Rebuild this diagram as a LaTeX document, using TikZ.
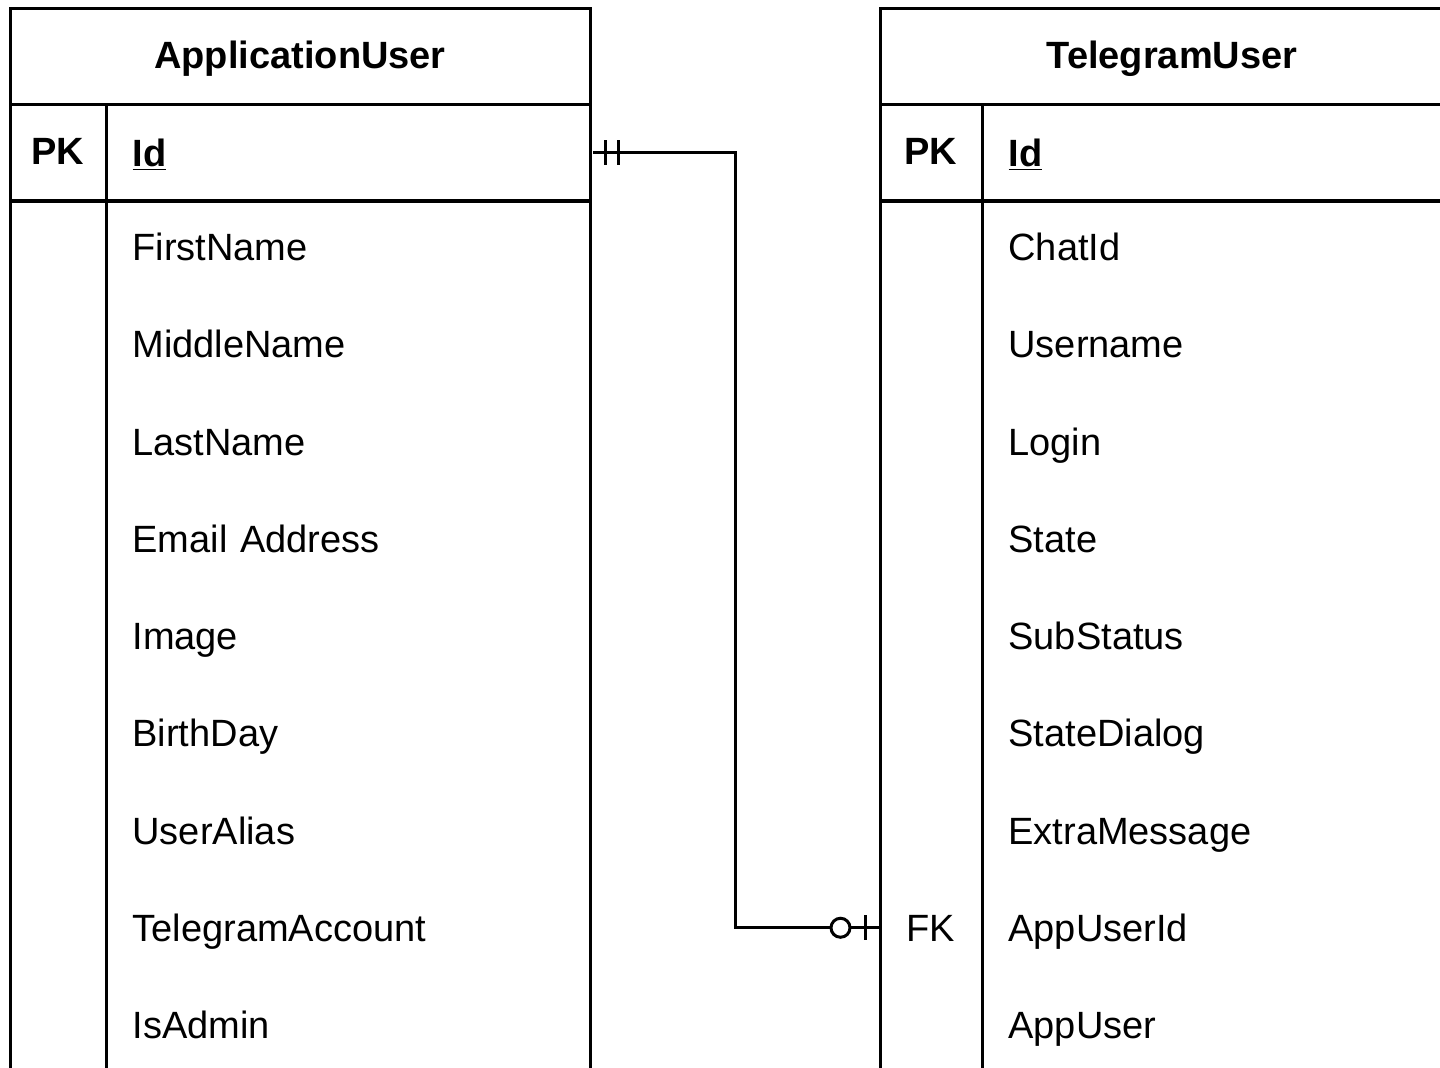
\documentclass[tikz,border=0pt]{standalone}
\usepackage{fontspec}
\setmainfont{Liberation Sans}
\usetikzlibrary{calc}

\tikzset{
	entity/.style={font=\bfseries\fontsize{19pt}{23pt}\selectfont, text height=13.6pt, text depth=0pt},
	key/.style={font=\fontsize{19pt}{23pt}\selectfont, text height=13.6pt, text depth=0pt, inner sep=0pt},
	field/.style={anchor=west, minimum width=242pt, minimum height=48.5pt, text width=217pt,
		inner xsep=12.5pt, inner ysep=0pt, align=left, font=\fontsize{19pt}{23pt}\selectfont,
		text height=13.6pt, text depth=0pt},
}

\begin{document}
\begin{tikzpicture}[x=0.5pt, y=-0.5pt, line width=1.5pt]

	\useasboundingbox (0,0) rectangle (1440,1067);
	\clip (0,0) rectangle (1440,1067);

	% draw ApplicationUser table
	\draw (10,8) rectangle (590,1200);
	\draw (10,104) -- (590,104);
	\draw[line width=2pt] (10,201) -- (590,201);
	\draw (106,104) -- (106,1200);
	\node[entity] (au_title) at (300,55) {ApplicationUser};
	\node[key, font=\bfseries\fontsize{19pt}{23pt}\selectfont] (au_pk) at (58,151) {PK};
	\node[field, font=\bfseries\fontsize{19pt}{23pt}\selectfont] (au_id) at (106,152.5) {\underline{Id}};
	\foreach \name [count=\i from 0] in {FirstName, MiddleName, LastName, Email Address, Image, BirthDay, UserAlias, TelegramAccount, IsAdmin}
	{
		\node[field] (au_f\i) at (106,247+97.25*\i) {\name};
	}

	% draw TelegramUser table
	\draw (880,8) rectangle (1464,1200);
	\draw (880,104) -- (1464,104);
	\draw[line width=2pt] (880,201) -- (1464,201);
	\draw (982,104) -- (982,1200);
	\node[entity] (tu_title) at (1172,55) {TelegramUser};
	\node[key, font=\bfseries\fontsize{19pt}{23pt}\selectfont] (tu_pk) at (931,151) {PK};
	\node[field, font=\bfseries\fontsize{19pt}{23pt}\selectfont] (tu_id) at (982,152.5) {\underline{Id}};
	\foreach \name [count=\i from 0] in {ChatId, Username, Login, State, SubStatus, StateDialog, ExtraMessage, AppUserId, AppUser}
	{
		\node[field] (tu_f\i) at (982,247+97.25*\i) {\name};
	}
	\node[key, minimum width=51pt] (tu_fk) at (931,927.75) {FK};

	% draw relation
	\draw (au_id.east) -| ($(au_id.east)!.5!(tu_fk.west)$) |- (tu_fk.west);
	\foreach \d in {12,25}
	{
		\draw ($(au_id.east)+(\d,-12.5)$) -- ++(0,25);
	}
	\draw ($(tu_fk.west)+(-13,-12.5)$) -- ++(0,25);
	\draw[fill=white] ($(tu_fk.west)+(-38,0)$) circle [radius=4.75pt];

\end{tikzpicture}
\end{document}
